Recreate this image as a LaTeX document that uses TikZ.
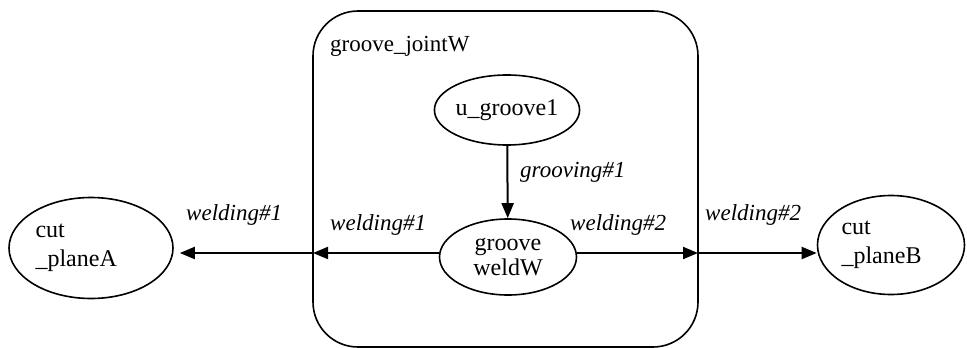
\documentclass[tikz,border=0pt]{standalone}
\usepackage{fontspec}
\setmainfont{Liberation Serif}
\usetikzlibrary{shapes.geometric,arrows.meta}
\begin{document}
\begin{tikzpicture}[x=1pt,y=-1pt,
  ell/.style={draw,ellipse,line width=1.6pt,inner sep=0pt,font=\fontsize{24}{26}\selectfont},
  arr/.style={line width=2pt,-{Triangle[length=15pt,width=12pt]}},
  lab/.style={font=\fontsize{23}{24}\selectfont\itshape,inner sep=0pt}]
\useasboundingbox (0,0) rectangle (967,348);
\node[draw,line width=1.6pt,rounded corners=45pt,minimum width=385pt,minimum height=336pt] (joint) at (505.5,179) {};
\node[anchor=north west,inner sep=0pt,font=\fontsize{23}{24}\selectfont] (jt) at (330,36) {groove\_jointW};
\node[ell,minimum width=133pt,minimum height=70pt] (ug) at (507,110) {u\_groove1};
\node[ell,minimum width=137pt,minimum height=76pt,align=center,font=\fontsize{24}{25}\selectfont] (gw) at (508,257) {groove\\weldW};
\node[ell,minimum width=164pt,minimum height=101pt,align=left,font=\fontsize{24}{29}\selectfont] (ca) at (91,248) {cut\hspace*{3.4em}\\\_planeA};
\node[ell,minimum width=147pt,minimum height=99pt,align=left,font=\fontsize{24}{29}\selectfont] (cb) at (891,245) {cut\hspace*{2.9em}\\\_planeB};
\coordinate (jl) at (313,253);
\coordinate (jr) at (698,253);
\draw[arr] (ug) -- (gw);
\draw[arr] (gw.west|-jl) -- (jl);
\draw[arr,shorten >=6pt] (jl) -- (ca.east|-jl);
\draw[arr] (gw.east|-jr) -- (jr);
\draw[arr] (jr) -- (cb.west|-jr);
\node[lab,anchor=west] (l1) at (520,172) {grooving\#1};
\node[lab,anchor=west] (l2) at (330,225) {welding\#1};
\node[lab,anchor=west] (l3) at (570,225) {welding\#2};
\node[lab,anchor=west] (l4) at (186,215) {welding\#1};
\node[lab,anchor=west] (l5) at (705,215) {welding\#2};
\end{tikzpicture}
\end{document}
